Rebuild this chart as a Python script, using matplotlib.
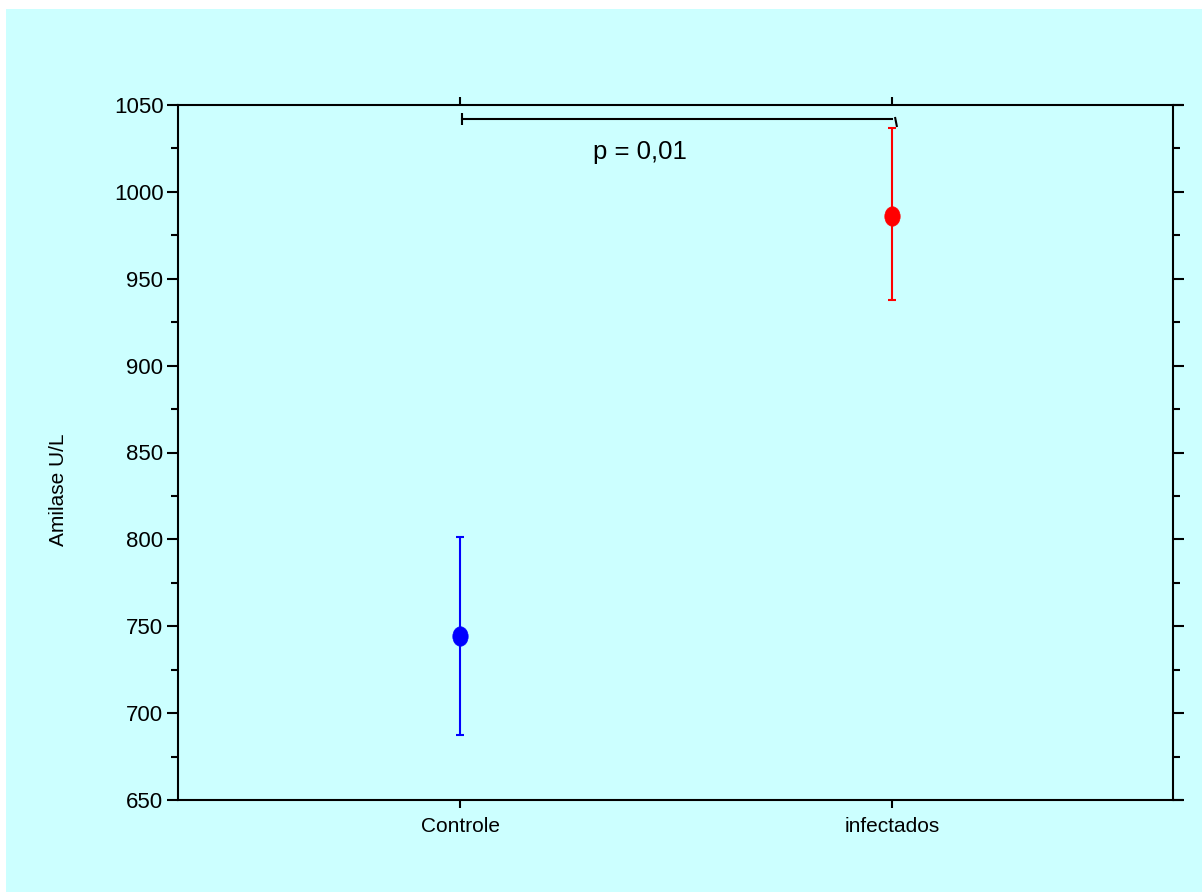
import matplotlib
matplotlib.use("Agg")
import matplotlib.pyplot as plt
from matplotlib.patches import Rectangle
from matplotlib.path import Path
from matplotlib.markers import MarkerStyle
from matplotlib.transforms import Affine2D
from matplotlib.ticker import MultipleLocator

plt.rcParams["font.family"] = ["Liberation Sans", "DejaVu Sans"]

groups = ["Controle", "infectados"]
means = [744.5, 986.0]
err_low = [57.0, 48.5]
err_high = [57.0, 50.5]
colors = ["#0000FF", "#FF0000"]
p_text = "p = 0,01"

BG = "#CCFFFF"

fig = plt.figure(figsize=(12.02, 8.92), dpi=100)
fig.patch.set_facecolor("white")
fig.patches.append(Rectangle((6 / 1202, 0), 1, 1 - 9 / 892, transform=fig.transFigure,
                             facecolor=BG, edgecolor="none", zorder=-10))

ax = fig.add_axes([178 / 1202, 1 - 800 / 892, 1004 / 1202, 695 / 892])
ax.patch.set_visible(False)

xs = [1, 2]
ellipse = Path.unit_circle().transformed(Affine2D().scale(0.79, 1.0))
for x, m, lo, hi, c in zip(xs, means, err_low, err_high, colors):
    ax.errorbar([x], [m], yerr=[[lo], [hi]], fmt="none", ecolor=c,
                elinewidth=1.5, capsize=3, capthick=1.5, zorder=3)
    ax.plot([x], [m], marker=ellipse, ms=14, color=c, mec=c, mew=0.5,
            linestyle="none", zorder=4)

# significance bracket
ax.plot([1.005, 2.0], [1042, 1042], color="black", lw=1.5, zorder=3)
ax.plot([1.005], [1042], marker="|", ms=8, mew=1.5, color="black")
ax.plot([2.008], [1040], marker=MarkerStyle("|", transform=Affine2D().rotate_deg(15)),
        ms=8, mew=1.5, color="black")
ax.text(1.417, 1023, p_text, ha="center", va="center", fontsize=18.5)

ax.set_xlim(0.3472, 2.671)
ax.set_ylim(650, 1050)
ax.set_xticks(xs)
ax.set_xticklabels(groups, fontsize=15)
ax.yaxis.set_major_locator(MultipleLocator(50))
ax.yaxis.set_minor_locator(MultipleLocator(25))
ax.tick_params(axis="y", which="major", direction="out", length=8, width=1.5,
               labelsize=16, pad=2.5, right=True)
ax.tick_params(axis="y", which="minor", direction="out", length=5, width=1.5, right=True)
ax.tick_params(axis="x", which="major", direction="out", length=6, width=1.5,
               pad=6, top=True)
ax.set_ylabel("Amilase U/L", fontsize=15)
ax.yaxis.set_label_coords(-0.1096, 0.446)

ax.spines["right"].set_position(("axes", 995 / 1004))
for s in ax.spines.values():
    s.set_linewidth(1.5)

fig.savefig("out.png", dpi=100, facecolor=fig.get_facecolor())
